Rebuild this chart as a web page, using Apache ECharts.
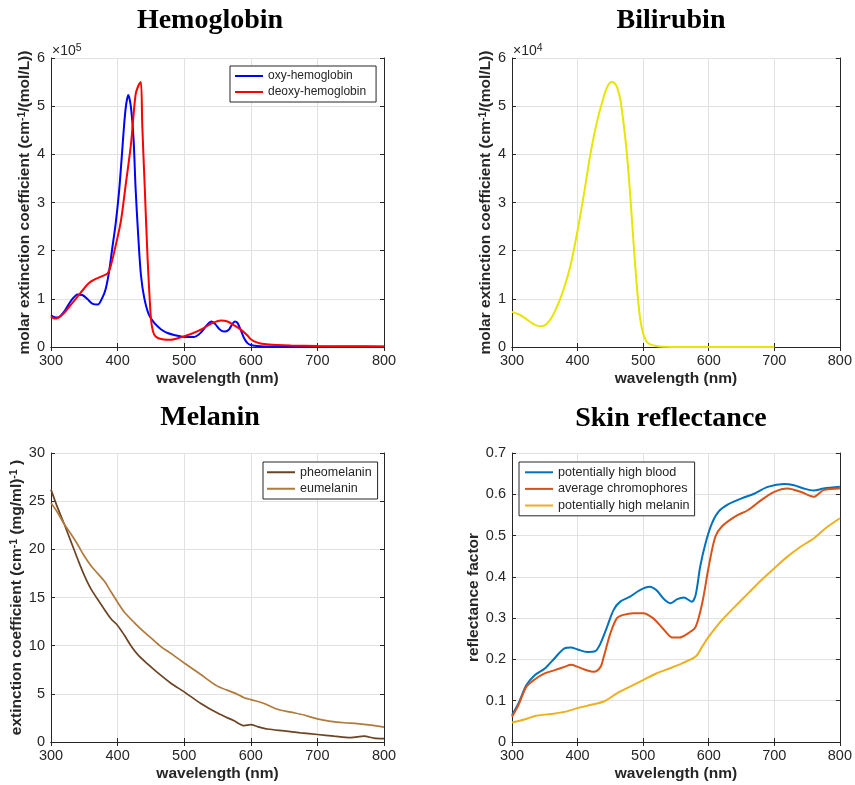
<!DOCTYPE html>
<html>
<head>
<meta charset="utf-8">
<script src="https://cdn.jsdelivr.net/npm/echarts@6/dist/echarts.min.js"></script>
<style>
body { margin: 0; background: #fff; }
#chart { width: 855px; height: 785px; }
</style>
</head>
<body>
<div id="chart"></div>
<script>
// hemoglobin (x1e5)
var oxyWl = [300,305,310,320,330,340,347,355,362,370,377,382,387,392,397,402,406,410,413,416,420,424,427,431,435,440,447,455,465,475,485,500,515,525,535,541,547,553,560,567,572,576,580,585,590,595,600,610,620,640,660,700,750,800];
var oxyVal = [0.66,0.62,0.61,0.74,0.96,1.09,1.08,0.99,0.90,0.88,1.02,1.20,1.55,2.05,2.55,3.2,3.9,4.65,5.05,5.23,4.98,4.3,3.3,2.3,1.5,1.02,0.67,0.50,0.37,0.29,0.25,0.21,0.21,0.30,0.47,0.53,0.47,0.37,0.32,0.36,0.47,0.53,0.50,0.35,0.18,0.08,0.04,0.02,0.012,0.008,0.006,0.004,0.003,0.003];
var deoxyWl = [300,305,310,320,330,340,350,357,365,375,385,390,397,405,412,420,427,432,435,437,441,445,450,453,457,467,480,495,510,525,540,555,565,575,585,595,600,610,620,640,660,700,750,800];
var deoxyVal = [0.63,0.59,0.60,0.71,0.88,1.05,1.22,1.33,1.40,1.46,1.53,1.70,2.10,2.62,3.35,4.20,5.24,5.45,5.50,4.62,3.23,1.85,0.60,0.33,0.22,0.16,0.15,0.20,0.27,0.36,0.48,0.55,0.53,0.45,0.36,0.24,0.16,0.09,0.06,0.04,0.03,0.02,0.015,0.012];

// bilirubin (x1e4)
var biliWl = [300,310,320,330,337,345,352,360,370,380,390,400,410,420,430,440,446,452,456,460,465,470,475,480,485,490,495,500,505,510,520,530,550,600,650,700];
var biliVal = [0.73,0.68,0.60,0.50,0.45,0.43,0.47,0.60,0.88,1.25,1.74,2.42,3.20,4.04,4.70,5.20,5.42,5.50,5.48,5.40,5.15,4.66,4.04,3.20,2.23,1.32,0.63,0.28,0.12,0.06,0.02,0.006,0.002,0.001,0.002,0.001];

// melanin
var pheoWl = [300,310,320,330,340,350,360,375,390,400,410,420,430,445,460,480,500,525,550,575,590,600,610,625,650,675,700,725,750,770,785,800];
var pheoVal = [26.2,24.3,22.6,20.8,19.0,17.3,15.9,14.3,12.8,12.1,11.1,10.0,9.1,8.1,7.2,6.1,5.2,4.0,3.0,2.2,1.7,1.8,1.6,1.35,1.15,0.95,0.78,0.6,0.45,0.6,0.4,0.35];
var euWl = [300,310,320,330,340,350,360,370,380,390,400,410,425,440,450,465,480,500,525,550,575,590,600,620,640,660,680,700,720,740,760,780,800];
var euVal = [24.8,23.8,22.6,21.6,20.5,19.3,18.3,17.5,16.7,15.6,14.5,13.5,12.4,11.4,10.8,9.9,9.2,8.2,7.0,5.8,5.1,4.6,4.4,4.0,3.4,3.1,2.8,2.4,2.15,2.0,1.9,1.75,1.55];

// skin reflectance
var bloodWl = [300,310,322,335,350,365,380,390,400,415,427,435,445,455,465,480,495,510,520,532,542,552,562,574,580,587,595,605,615,630,650,670,690,715,730,745,760,775,800];
var bloodVal = [0.065,0.094,0.138,0.162,0.178,0.203,0.227,0.229,0.224,0.218,0.220,0.239,0.279,0.320,0.340,0.352,0.368,0.376,0.368,0.346,0.336,0.346,0.350,0.340,0.356,0.425,0.481,0.530,0.558,0.576,0.590,0.602,0.618,0.625,0.622,0.614,0.609,0.614,0.618];
var avgWl = [300,310,322,335,350,365,380,390,400,415,425,435,440,450,460,470,485,500,515,530,545,555,570,580,590,600,610,620,640,660,680,700,720,740,760,775,800];
var avgVal = [0.061,0.090,0.134,0.152,0.166,0.174,0.182,0.187,0.182,0.173,0.170,0.182,0.207,0.263,0.300,0.308,0.312,0.312,0.300,0.275,0.253,0.253,0.265,0.279,0.336,0.425,0.497,0.522,0.546,0.562,0.586,0.606,0.614,0.606,0.594,0.610,0.614];
var melSkinWl = [300,320,335,360,380,400,420,440,460,480,500,520,540,560,580,590,600,620,640,660,680,700,720,740,760,780,800];
var melSkinVal = [0.047,0.055,0.063,0.068,0.073,0.082,0.090,0.098,0.118,0.134,0.150,0.166,0.178,0.191,0.207,0.231,0.255,0.295,0.328,0.360,0.392,0.421,0.449,0.473,0.493,0.520,0.542];

var INK = '#262626';
var SANS = 'Liberation Sans, Arial, sans-serif';

function pairs(xs, ys) {
    var out = [];
    for (var i = 0; i < xs.length; i++) out.push([xs[i], ys[i]]);
    return out;
}

var grids = [
    {left: 51, top: 58, width: 333, height: 289},
    {left: 512, top: 58, width: 333, height: 289},
    {left: 51, top: 453, width: 333, height: 289},
    {left: 512, top: 453, width: 333, height: 289}
];

var supRich = { sup: { fontSize: 10.5, fontWeight: 'bold', fontFamily: SANS, color: INK, verticalAlign: 'top', padding: [0, 0, 6, 0] } };

var yInfo = [
    {max: 6, interval: 1, name: 'molar extinction coefficient (cm{sup|-1}/(mol/L))', gap: 14},
    {max: 6, interval: 1, name: 'molar extinction coefficient (cm{sup|-1}/(mol/L))', gap: 15},
    {max: 30, interval: 5, name: 'extinction coefficient (cm{sup|-1} (mg/ml){sup|-1} )', gap: 22},
    {max: 0.7, interval: 0.1, name: 'reflectance factor', gap: 27}
];

var xAxes = [], yAxes = [];
grids.forEach(function (g, i) {
    var tick = {show: true, inside: true, length: 4, lineStyle: {color: INK}};
    var line = {show: true, lineStyle: {color: INK, width: 1}};
    xAxes.push({
        type: 'value', gridIndex: i, position: 'bottom', min: 300, max: 800, interval: 100,
        axisLine: line, axisTick: tick,
        axisLabel: {color: INK, fontSize: 14.5, fontFamily: SANS, margin: 6},
        splitLine: {show: true, lineStyle: {color: '#e2e2e2'}},
        name: 'wavelength (nm)', nameLocation: 'middle', nameGap: 24,
        nameTextStyle: {color: INK, fontSize: 15.5, fontWeight: 'bold', fontFamily: SANS}
    });
    xAxes.push({
        type: 'value', gridIndex: i, position: 'top', min: 300, max: 800, interval: 100,
        axisLine: line, axisTick: tick, axisLabel: {show: false}, splitLine: {show: false}
    });
    var yi = yInfo[i];
    yAxes.push({
        type: 'value', gridIndex: i, position: 'left', min: 0, max: yi.max, interval: yi.interval,
        axisLine: line, axisTick: tick,
        axisLabel: {color: INK, fontSize: 14.5, fontFamily: SANS, margin: 6},
        splitLine: {show: true, lineStyle: {color: '#e2e2e2'}},
        name: yi.name, nameLocation: 'middle', nameRotate: 90, nameGap: yi.gap,
        nameTextStyle: {color: INK, fontSize: 15.5, fontWeight: 'bold', fontFamily: SANS, rich: supRich}
    });
    yAxes.push({
        type: 'value', gridIndex: i, position: 'right', min: 0, max: yi.max, interval: yi.interval,
        axisLine: line, axisTick: tick, axisLabel: {show: false}, splitLine: {show: false}
    });
});

function mkLine(name, g, xs, ys, color, width) {
    return {
        name: name, type: 'line', xAxisIndex: 2 * g, yAxisIndex: 2 * g,
        data: pairs(xs, ys), symbol: 'none', smooth: 0.3,
        lineStyle: {color: color, width: width}, itemStyle: {color: color}
    };
}

var series = [
    mkLine('oxy-hemoglobin', 0, oxyWl, oxyVal, '#0000ff', 2),
    mkLine('deoxy-hemoglobin', 0, deoxyWl, deoxyVal, '#ff0000', 2),
    mkLine('bilirubin', 1, biliWl, biliVal, '#e6e600', 2),
    mkLine('pheomelanin', 2, pheoWl, pheoVal, '#6b4423', 1.7),
    mkLine('eumelanin', 2, euWl, euVal, '#b07a3c', 1.7),
    mkLine('potentially high blood', 3, bloodWl, bloodVal, '#0072bd', 2),
    mkLine('average chromophores', 3, avgWl, avgVal, '#d95319', 2),
    mkLine('potentially high melanin', 3, melSkinWl, melSkinVal, '#edb120', 2)
];

function mkLegend(names, left, top, fs, pad) {
    return {
        data: names, left: left, top: top, orient: 'vertical',
        icon: 'rect', itemWidth: 28, itemHeight: 2, itemGap: 2, padding: pad,
        backgroundColor: '#fff', borderColor: INK, borderWidth: 1, borderRadius: 0,
        selectedMode: false,
        textStyle: {color: INK, fontSize: fs, fontFamily: SANS, lineHeight: fs + 2}
    };
}

var legends = [
    mkLegend(['oxy-hemoglobin', 'deoxy-hemoglobin'], 230, 66, 12, [3, 10, 3, 5]),
    mkLegend(['pheomelanin', 'eumelanin'], 263, 462, 12.5, [3, 6, 3, 4]),
    mkLegend(['potentially high blood', 'average chromophores', 'potentially high melanin'], 519, 462, 12.6, [3, 5, 3, 6])
];

function title(text, x, y) {
    return {
        type: 'text', x: x, y: y, silent: true,
        style: {text: text, font: 'bold 28px "Liberation Serif", "Times New Roman", serif', fill: '#000',
            align: 'center', verticalAlign: 'middle', textAlign: 'center', textVerticalAlign: 'middle'}
    };
}

function expo(power, x, y) {
    return {
        type: 'text', x: x, y: y, silent: true,
        style: {text: '×10{s|' + power + '}', font: '14px ' + SANS, fontSize: 14, fontFamily: SANS, fill: INK,
            align: 'left', verticalAlign: 'bottom', textAlign: 'left', textVerticalAlign: 'bottom',
            rich: {s: {fontSize: 10.5, fontFamily: SANS, fill: INK, verticalAlign: 'top', padding: [0, 0, 5, 0]}}}
    };
}

var chart = echarts.init(document.getElementById('chart'), null, {renderer: 'canvas'});
chart.setOption({
    animation: false,
    backgroundColor: '#fff',
    grid: grids,
    xAxis: xAxes,
    yAxis: yAxes,
    legend: legends,
    series: series,
    graphic: [
        title('Hemoglobin', 210, 21),
        title('Bilirubin', 671, 21),
        title('Melanin', 210, 418),
        title('Skin reflectance', 671, 419),
        expo(5, 52, 59),
        expo(4, 513, 59)
    ]
});
</script>
</body>
</html>
